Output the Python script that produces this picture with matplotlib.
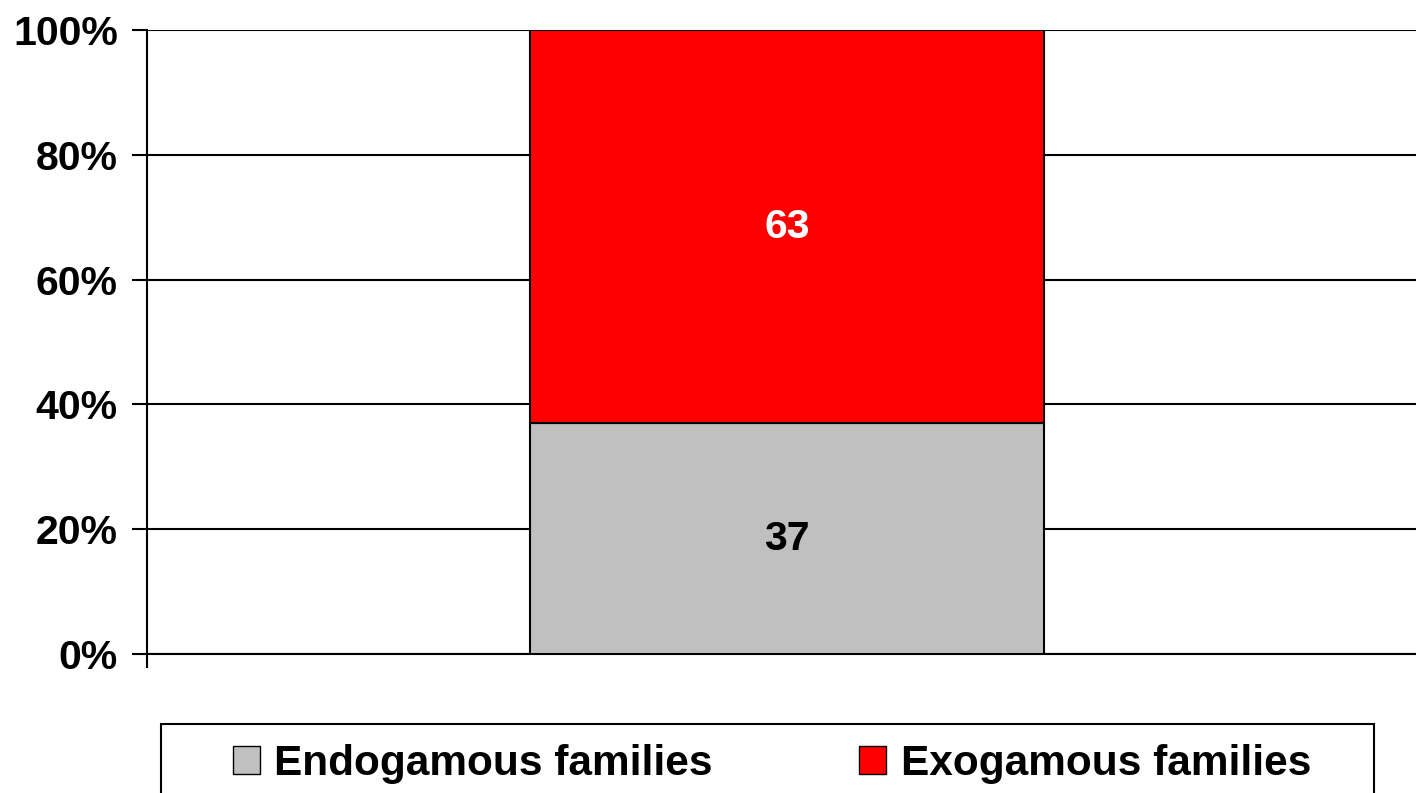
import matplotlib.pyplot as plt
from matplotlib.patches import Rectangle, Patch
from matplotlib.ticker import PercentFormatter

plt.rcParams['font.family'] = ['Liberation Sans', 'DejaVu Sans']
plt.rcParams['font.weight'] = 'bold'

series = ['Endogamous families', 'Exogamous families']
values = [37, 63]
colors = ['#C0C0C0', '#FF0000']
label_colors = ['black', 'white']

fig = plt.figure(figsize=(14.16, 7.93), dpi=100)
W, H = 1416, 793
ax = fig.add_axes([147 / W, 139 / H, (1427 - 147) / W, (654 - 30) / H])

bottom = 0
for name, v, c, lc in zip(series, values, colors, label_colors):
    ax.bar(0, v, width=0.4016, bottom=bottom, color=c, edgecolor='black',
           linewidth=1.5, zorder=3, label=name)
    ax.text(0, bottom + v / 2, str(v), ha='center', va='center',
            fontsize=29.5, fontweight='bold', color=lc, zorder=4)
    bottom += v

ax.set_xlim(-0.5, 0.5)
ax.set_ylim(0, 100)
ax.set_yticks(range(0, 101, 20))
ax.yaxis.set_major_formatter(PercentFormatter(decimals=0))
ax.set_xticks([-0.5, 0.5])
ax.set_xticklabels([])
ax.tick_params(axis='y', length=11, width=1.5, pad=10, labelsize=29.5)
ax.tick_params(axis='x', length=10, width=1.5)
for lab in ax.get_yticklabels():
    lab.set_fontweight('bold')
ax.grid(axis='y', color='black', linewidth=1.5, zorder=0)
ax.spines['top'].set_visible(False)
ax.spines['right'].set_visible(False)
ax.spines['left'].set_linewidth(1.5)
ax.spines['bottom'].set_linewidth(1.5)

# legend box
fig.patches.append(Rectangle((161 / W, -0.05), (1374 - 161) / W, (793 - 724) / H + 0.05,
                             transform=fig.transFigure, facecolor='white',
                             edgecolor='black', linewidth=1.5))
handles = [Patch(facecolor=c, edgecolor='black', linewidth=1) for c in colors]
fig.legend(handles, series, loc='center', bbox_to_anchor=(772 / W, 29 / H),
           ncol=2, frameon=False, prop={'weight': 'bold', 'size': 30.5},
           handlelength=0.64, handleheight=0.64, handletextpad=0.35,
           columnspacing=3.45)

fig.savefig('out.png', dpi=100)
